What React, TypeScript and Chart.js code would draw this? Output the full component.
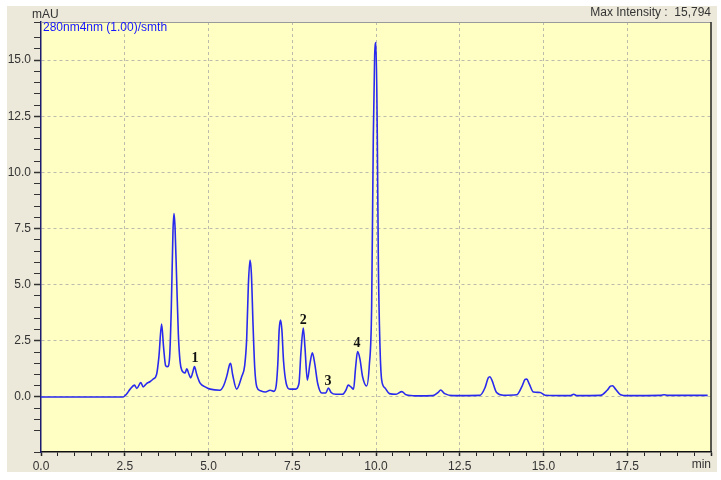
import React, { useEffect, useRef } from "react";
import { Chart, registerables } from "chart.js";

Chart.register(...registerables);

// Retention time (min)
const times = [
  0, 2.45, 2.55, 2.66, 2.79, 2.86, 2.98, 3.05, 3.15, 3.25, 3.35, 3.45, 3.52, 3.6, 3.66, 3.72, 3.78, 3.84,
  3.89, 3.94, 3.97, 4.0, 4.05, 4.1, 4.15, 4.2, 4.3, 4.35, 4.42, 4.47, 4.53, 4.58, 4.65, 4.75, 4.9, 5.05,
  5.34, 5.45, 5.55, 5.63, 5.66, 5.72, 5.84, 5.99, 6.08, 6.14, 6.19, 6.24, 6.28, 6.33, 6.38, 6.44, 6.55,
  6.7, 6.84, 6.95, 7.02, 7.07, 7.11, 7.15, 7.19, 7.24, 7.32, 7.43, 7.6, 7.7, 7.76, 7.83, 7.88, 7.95, 8.03,
  8.1, 8.17, 8.26, 8.38, 8.5, 8.58, 8.66, 8.8, 9.0, 9.1, 9.17, 9.25, 9.33, 9.39, 9.45, 9.52, 9.6, 9.72,
  9.8, 9.87, 9.92, 9.96, 10.0, 10.04, 10.07, 10.12, 10.17, 10.27, 10.4, 10.6, 10.77, 10.9, 11.2, 11.7,
  11.85, 11.93, 12.05, 12.3, 13.1, 13.25, 13.35, 13.4, 13.46, 13.6, 13.8, 14.2, 14.35, 14.45, 14.5, 14.57,
  14.7, 14.9, 15.05, 15.8, 15.9, 16.0, 16.7, 16.9, 17.0, 17.06, 17.15, 17.3, 17.5, 18.5, 18.6, 18.7, 19.9,
];

// Absorbance (mAU)
const intensity = [
  0, 0, 0.12, 0.35, 0.53, 0.38, 0.64, 0.45, 0.6, 0.68, 0.8, 1.0, 1.8, 3.25, 2.2, 1.4, 1.35, 1.8,
  4.0, 7.4, 8.17, 7.6, 5.2, 2.8, 1.6, 1.2, 1.07, 1.25, 1.0, 0.85, 1.1, 1.35, 1.0, 0.62, 0.45, 0.35,
  0.3, 0.5, 0.95, 1.45, 1.5, 1.0, 0.35, 0.9, 1.4, 2.6, 5.0, 6.1, 5.5, 3.2, 1.3, 0.46, 0.28,
  0.22, 0.3, 0.25, 0.5, 1.5, 3.0, 3.43, 3.0, 1.6, 0.6, 0.35, 0.35, 0.6, 2.0, 3.07, 2.2, 0.75, 1.5,
  1.97, 1.5, 0.6, 0.18, 0.18, 0.4, 0.2, 0.12, 0.12, 0.3, 0.53, 0.45, 0.35, 1.3, 2.02, 1.7, 0.9, 0.49,
  1.4, 4.0, 11.6, 15.2, 15.79, 11.4, 6.0, 2.2, 0.75, 0.4, 0.15, 0.12, 0.24, 0.1, 0.05, 0.06,
  0.2, 0.31, 0.15, 0.06, 0.07, 0.4, 0.85, 0.9, 0.75, 0.2, 0.08, 0.1, 0.45, 0.78, 0.8, 0.6,
  0.22, 0.2, 0.08, 0.06, 0.12, 0.06, 0.07, 0.3, 0.48, 0.5, 0.35, 0.1, 0.06, 0.07, 0.1, 0.07, 0.07,
];

// Peak annotations
const peakLabels = ["1", "2", "3", "4"];
const peakTimes = [4.6, 7.83, 8.57, 9.43];
const peakLabelY = [1.74, 3.43, 0.71, 2.4];

const xMin = 0;
const xMax = 20;
const yMin = -2.45;
const yMax = 16.7;
const majorStep = 2.5;
const minorStep = 0.5;

const channelText = "280nm4nm (1.00)/smth";
const maxIntensityText = "Max Intensity :  15,794";
const yUnit = "mAU";
const xUnit = "min";

const SANS = "'Liberation Sans', Arial, sans-serif";
const GRID = "#bcbcac";

const isMajor = (v: number) => Math.abs(v / majorStep - Math.round(v / majorStep)) < 1e-6;

export default function App() {
  const ref = useRef<HTMLCanvasElement | null>(null);

  useEffect(() => {
    if (!ref.current) return;
    const decor = {
      id: "decor",
      beforeDraw(chart: any) {
        const { ctx, chartArea: a } = chart;
        ctx.save();
        ctx.fillStyle = "#ffffff";
        ctx.fillRect(0, 0, chart.width, chart.height);
        ctx.fillStyle = "#ECE9DA";
        ctx.fillRect(7, 6, 710, 466);
        ctx.fillStyle = "#FFFFC4";
        ctx.fillRect(a.left, a.top, a.right - a.left, a.bottom - a.top);
        ctx.restore();
      },
      afterDatasetsDraw(chart: any) {
        const { ctx, chartArea: a, scales } = chart;
        ctx.save();
        // frame
        ctx.strokeStyle = "#9a9a9a";
        ctx.lineWidth = 1;
        ctx.beginPath();
        ctx.moveTo(a.left, a.top + 0.5);
        ctx.lineTo(a.right, a.top + 0.5);
        ctx.stroke();
        ctx.strokeStyle = "#222";
        ctx.lineWidth = 1.5;
        ctx.beginPath();
        ctx.moveTo(a.right, a.top);
        ctx.lineTo(a.right, a.bottom);
        ctx.stroke();
        // peak labels
        ctx.fillStyle = "#111";
        ctx.font = "bold 14px 'Liberation Serif', 'Times New Roman', serif";
        ctx.textAlign = "center";
        ctx.textBaseline = "middle";
        peakLabels.forEach((l, i) => {
          ctx.fillText(l, scales.x.getPixelForValue(peakTimes[i]), scales.y.getPixelForValue(peakLabelY[i]));
        });
        // texts
        ctx.font = `12px ${SANS}`;
        ctx.fillStyle = "#1515ff";
        ctx.textAlign = "left";
        ctx.fillText(channelText, a.left + 2, a.top + 6);
        ctx.fillStyle = "#333";
        ctx.fillText(yUnit, a.left - 9, 15);
        ctx.textAlign = "right";
        ctx.fillText(maxIntensityText, a.right, 13);
        ctx.fillText(xUnit, a.right, 465);
        ctx.restore();
      },
    };

    const chart = new Chart(ref.current, {
      type: "line",
      data: {
        datasets: [
          {
            data: times.map((t, i) => ({ x: t, y: intensity[i] })),
            borderColor: "#2a2aee",
            borderWidth: 1.6,
            pointRadius: 0,
            fill: false,
            cubicInterpolationMode: "monotone",
          },
        ],
      },
      options: {
        animation: false,
        responsive: false,
        maintainAspectRatio: false,
        layout: { padding: { top: 22, right: 10, left: 0, bottom: 0 } },
        plugins: { legend: { display: false }, tooltip: { enabled: false } },
        scales: {
          x: {
            type: "linear",
            min: xMin,
            max: xMax,
            afterFit: (s: any) => {
              s.height = 28;
            },
            border: { color: "#111", width: 1.5, dash: [3, 3] },
            grid: {
              color: (c: any) =>
                c.tick && isMajor(c.tick.value) && c.tick.value > xMin && c.tick.value < xMax
                  ? GRID
                  : "rgba(0,0,0,0)",
              lineWidth: 1,
              tickColor: "#222",
              tickLength: 4,
              tickWidth: (c: any) => (c.tick && isMajor(c.tick.value) ? 1.5 : 1),
            },
            ticks: {
              stepSize: minorStep,
              autoSkip: false,
              maxRotation: 0,
              padding: 3,
              color: "#333",
              font: { family: SANS, size: 12 },
              callback: (v: any) => {
                const n = Number(v);
                return isMajor(n) && n < xMax ? n.toFixed(1) : "";
              },
            },
          },
          y: {
            type: "linear",
            min: yMin,
            max: yMax,
            afterFit: (s: any) => {
              s.width = 41;
            },
            border: { color: "#1c1c70", width: 1.5, dash: [3, 3] },
            grid: {
              color: (c: any) =>
                c.tick && isMajor(c.tick.value) && c.tick.value >= 0 && c.tick.value <= 15
                  ? GRID
                  : "rgba(0,0,0,0)",
              lineWidth: 1,
              tickColor: "#333",
              tickLength: 7,
              tickWidth: (c: any) => (c.tick && isMajor(c.tick.value) ? 1.5 : 1),
            },
            ticks: {
              stepSize: minorStep,
              autoSkip: false,
              padding: 3,
              color: "#333",
              font: { family: SANS, size: 12 },
              callback: (v: any) => {
                const n = Number(v);
                return isMajor(n) && n >= 0 && n <= 15 ? n.toFixed(1) : "";
              },
            },
          },
        },
      },
      plugins: [decor],
    } as any);
    return () => chart.destroy();
  }, []);

  return (
    <div style={{ position: "absolute", left: 0, top: 0, width: 721, height: 480 }}>
      <canvas ref={ref} width={721} height={480} style={{ display: "block", width: 721, height: 480 }} />
    </div>
  );
}
